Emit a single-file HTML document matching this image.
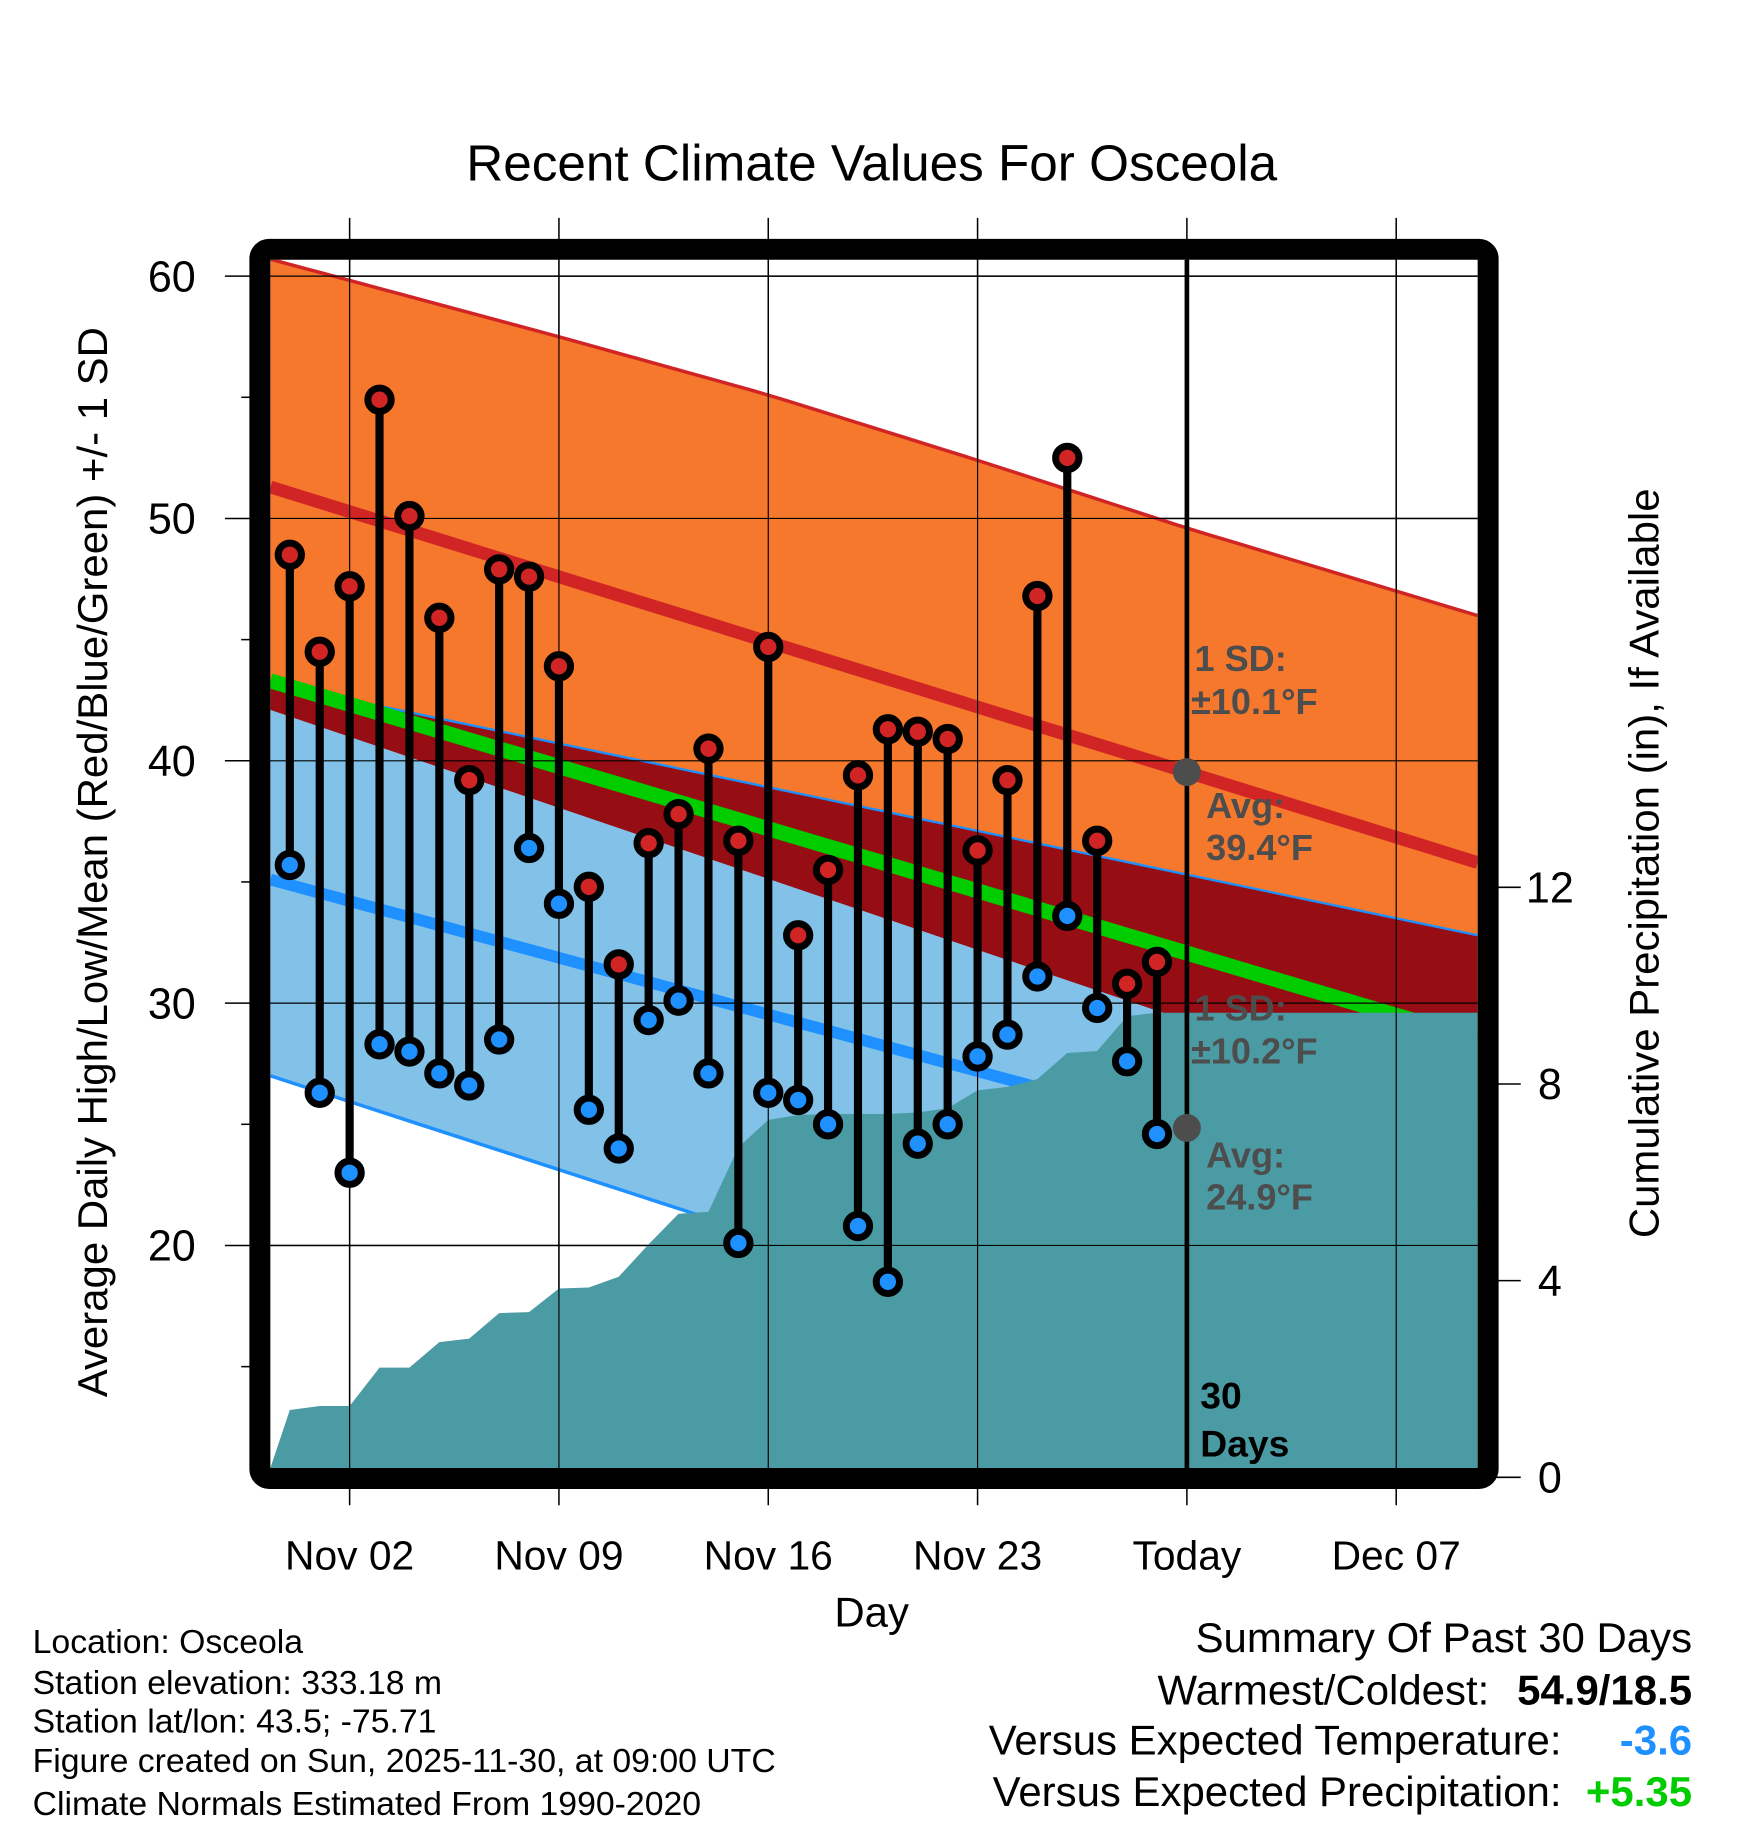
<!DOCTYPE html>
<html><head><meta charset="utf-8"><style>
html,body{margin:0;padding:0;background:#fff}
svg{display:block;font-family:"Liberation Sans",Arial,sans-serif}
</style></head><body>
<svg id="chart" width="1748" height="1828" viewBox="0 0 1500 1569" preserveAspectRatio="none" xmlns="http://www.w3.org/2000/svg">
<defs><clipPath id="plotclip"><rect x="232" y="223" width="1036" height="1037"/></clipPath></defs>
<rect width="1500" height="1569" fill="#fff"/>
<text x="748" y="155" font-size="44" text-anchor="middle">Recent Climate Values For Osceola</text>
<g id="grid"></g>
<g id="bands" clip-path="url(#plotclip)"></g>
<g id="marks"></g>
<g id="frame"></g>
<g id="labels"></g>
<text transform="translate(92,740) rotate(-90)" font-size="36" text-anchor="middle">Average Daily High/Low/Mean (Red/Blue/Green) +/- 1 SD</text>
<text transform="translate(1423,741) rotate(-90)" font-size="36" text-anchor="middle">Cumulative Precipitation (in), If Available</text>
<text x="748" y="1396" font-size="36" text-anchor="middle">Day</text>
<g font-size="29">
<text x="28" y="1419">Location: Osceola</text>
<text x="28" y="1454">Station elevation: 333.18 m</text>
<text x="28" y="1487">Station lat/lon: 43.5; -75.71</text>
<text x="28" y="1521">Figure created on Sun, 2025-11-30, at 09:00 UTC</text>
<text x="28" y="1558">Climate Normals Estimated From 1990-2020</text>
</g>
<g font-size="36" text-anchor="end">
<text x="1452" y="1418">Summary Of Past 30 Days</text>
<text x="1278" y="1463">Warmest/Coldest:</text>
<text x="1452" y="1463" font-weight="bold">54.9/18.5</text>
<text x="1340" y="1506">Versus Expected Temperature:</text>
<text x="1452" y="1506" font-weight="bold" fill="#1e90ff">-3.6</text>
<text x="1340" y="1550">Versus Expected Precipitation:</text>
<text x="1452" y="1550" font-weight="bold" fill="#00cc00">+5.35</text>
</g>
</svg>
<script>
const days = ["Oct 31","Nov 01","Nov 02","Nov 03","Nov 04","Nov 05","Nov 06","Nov 07","Nov 08","Nov 09","Nov 10","Nov 11","Nov 12","Nov 13","Nov 14","Nov 15","Nov 16","Nov 17","Nov 18","Nov 19","Nov 20","Nov 21","Nov 22","Nov 23","Nov 24","Nov 25","Nov 26","Nov 27","Nov 28","Nov 29"];
const highs = [48.5,44.5,47.2,54.9,50.1,45.9,39.2,47.9,47.6,43.9,34.8,31.6,36.6,37.8,40.5,36.7,44.7,32.8,35.5,39.4,41.3,41.2,40.9,36.3,39.2,46.8,52.5,36.7,30.8,31.7];
const lows = [35.7,26.3,23.0,28.3,28.0,27.1,26.6,28.5,36.4,34.1,25.6,24.0,29.3,30.1,27.1,20.1,26.3,26.0,25.0,20.8,18.5,24.2,25.0,27.8,28.7,31.1,33.6,29.8,27.6,24.6];
const precip = [1.37,1.45,1.45,2.23,2.23,2.75,2.82,3.34,3.36,3.84,3.86,4.08,4.74,5.36,5.40,6.71,7.27,7.37,7.39,7.39,7.39,7.42,7.51,7.87,7.94,8.10,8.63,8.67,9.38,9.45];
// normal lines: values at plot left edge and right edge
const highUpperSD = [60.7, 57.5, 55.1, 52.4, 49.6, 46.0];
const highUpperSDDays = [-0.65, 9, 16, 23, 30, 39.7];
const highAvg = [51.3, 35.8];
const highLowerSD = [42.1, 25.2];
const meanAvg = [43.3, 28.5];
const lowUpperSD = [43.2, 32.8];
const lowAvg = [35.1, 21.6];
const lowLowerSD = [27.0, 10.8];
const yTicks = [20,30,40,50,60];
const yMinor = [15,25,35,45,55];
const pTicks = [0,4,8,12];
const xTickLabels = ["Nov 02","Nov 09","Nov 16","Nov 23","Today","Dec 07"];
const xTickDays = [2,9,16,23,30,37];

const NS="http://www.w3.org/2000/svg";
const X = d => 248.7 + d*25.66;
const Y = v => 237 + (60 - v)*20.8;
const P = p => 1268 - p*42.2;
const XL = 232, XR = 1268, YT = 223, YB = 1260;
const dL = (XL-248.7)/25.66, dR = (XR-248.7)/25.66;
function mk(tag, attrs, parent){const e=document.createElementNS(NS,tag);for(const k in attrs)e.setAttribute(k,attrs[k]);parent.appendChild(e);return e;}
const L2 = arr => d => arr[0]+(arr[1]-arr[0])*(d-dL)/(dR-dL);
function interp(xs,ys){return d=>{for(let i=0;i<xs.length-1;i++){if(d<=xs[i+1]||i==xs.length-2){return ys[i]+(ys[i+1]-ys[i])*(d-xs[i])/(xs[i+1]-xs[i]);}}};}
const fTop=interp(highUpperSDDays,highUpperSD), fHA=L2(highAvg), fHL=L2(highLowerSD), fM=L2(meanAvg), fLU=L2(lowUpperSD), fLA=L2(lowAvg), fLL=L2(lowLowerSD);
const grid=document.getElementById('grid'), bands=document.getElementById('bands'), marks=document.getElementById('marks'), frame=document.getElementById('frame'), labels=document.getElementById('labels');

function bandPoly(f1,f2){const pts=[];const n=40;for(let i=0;i<=n;i++){const d=dL+(dR-dL)*i/n;pts.push(X(d)+','+Y(f1(d)));}for(let i=n;i>=0;i--){const d=dL+(dR-dL)*i/n;pts.push(X(d)+','+Y(f2(d)));}return pts.join(' ');}
let e;
e=mk('polygon',{points:bandPoly(fTop,fHL),fill:'#f5782c'},bands);

e=mk('polygon',{points:bandPoly(fLU,fLL),fill:'#82c2e8'},bands);

e=mk('polygon',{points:bandPoly(fLU,d=>Math.min(fLU(d),fHL(d))),fill:'#960d14'},bands);

function curve(f,color,w,name){const pts=[];for(let i=0;i<=40;i++){const d=dL+(dR-dL)*i/40;pts.push(X(d)+','+Y(f(d)));}const el=mk('polyline',{points:pts.join(' '),fill:'none',stroke:color,'stroke-width':w},bands);}
curve(fTop,'#d12525',3,'high-upper-sd-line');
curve(fLU,'#1e90ff',2,'low-upper-sd-line');
curve(fLL,'#1e90ff',3,'low-lower-sd-line');
curve(fHA,'#d12525',11,'avg-high-line');
curve(fLA,'#1e90ff',10,'avg-low-line');
curve(fM,'#00cc00',13,'avg-mean-line');
{const pts=[XL+','+YB];precip.forEach((p,i)=>pts.push(X(i)+','+P(p)));pts.push(XR+','+P(precip[precip.length-1]));pts.push(XR+','+YB);
e=mk('polygon',{points:pts.join(' '),fill:'#4a9ba3'},bands);}

xTickDays.forEach((d,i)=>{e=mk('line',{x1:X(d),y1:187,x2:X(d),y2:1292,stroke:'#000','stroke-width':1.3},grid);
 e=mk('text',{x:X(d),y:1347,'font-size':35,'text-anchor':'middle'},labels);e.textContent=xTickLabels[i];});
yTicks.forEach(v=>{e=mk('line',{x1:193,y1:Y(v),x2:XR,y2:Y(v),stroke:'#000','stroke-width':1.3},grid);
 e=mk('text',{x:168,y:Y(v)+13,'font-size':37,'text-anchor':'end'},labels);e.textContent=v;});
yMinor.forEach(v=>{e=mk('line',{x1:207,y1:Y(v),x2:218,y2:Y(v),stroke:'#000','stroke-width':1.3},grid);});
pTicks.forEach(p=>{e=mk('line',{x1:1276,y1:P(p),x2:1305,y2:P(p),stroke:'#000','stroke-width':1.3},grid);
 e=mk('text',{x:1330,y:P(p)+13,'font-size':37,'text-anchor':'middle'},labels);e.textContent=p;});
xTickDays.forEach(d=>{e=mk('line',{x1:X(d),y1:YT,x2:X(d),y2:YB,stroke:'#000','stroke-width':1},marks);});
yTicks.forEach(v=>{e=mk('line',{x1:XL,y1:Y(v),x2:XR,y2:Y(v),stroke:'#000','stroke-width':1},marks);});

const today=30;
e=mk('line',{x1:X(today),y1:YT,x2:X(today),y2:YB,stroke:'#000','stroke-width':4},marks);
e=mk('circle',{cx:X(today),cy:Y(fHA(today)),r:12,fill:'#4d4d4d'},marks);
e=mk('circle',{cx:X(today),cy:Y(fLA(today)),r:12,fill:'#4d4d4d'},marks);
const ann=[["1 SD:",1025,576],["±10.1°F",1022,613],["Avg:",1035,702],["39.4°F",1035,738],["1 SD:",1025,876],["±10.2°F",1022,913],["Avg:",1035,1002],["24.9°F",1035,1038]];
ann.forEach(a=>{e=mk('text',{x:a[1],y:a[2],'font-size':31,'font-weight':'bold',fill:'#4d4d4d'},marks);e.textContent=a[0];});
[["30",1030,1209],["Days",1030,1250]].forEach(a=>{e=mk('text',{x:a[1],y:a[2],'font-size':32,'font-weight':'bold',fill:'#000'},marks);e.textContent=a[0];});

days.forEach((d,i)=>{const x=X(i);
 e=mk('line',{x1:x,y1:Y(highs[i]),x2:x,y2:Y(lows[i]),stroke:'#000','stroke-width':7},marks);
 e=mk('circle',{cx:x,cy:Y(highs[i]),r:10,fill:'#d12525',stroke:'#000','stroke-width':6},marks);
 e=mk('circle',{cx:x,cy:Y(lows[i]),r:10,fill:'#1e90ff',stroke:'#000','stroke-width':6},marks);});

e=mk('rect',{x:223,y:214,width:1054,height:1055,rx:8,fill:'none',stroke:'#000','stroke-width':18},frame);
</script>
</body></html>
